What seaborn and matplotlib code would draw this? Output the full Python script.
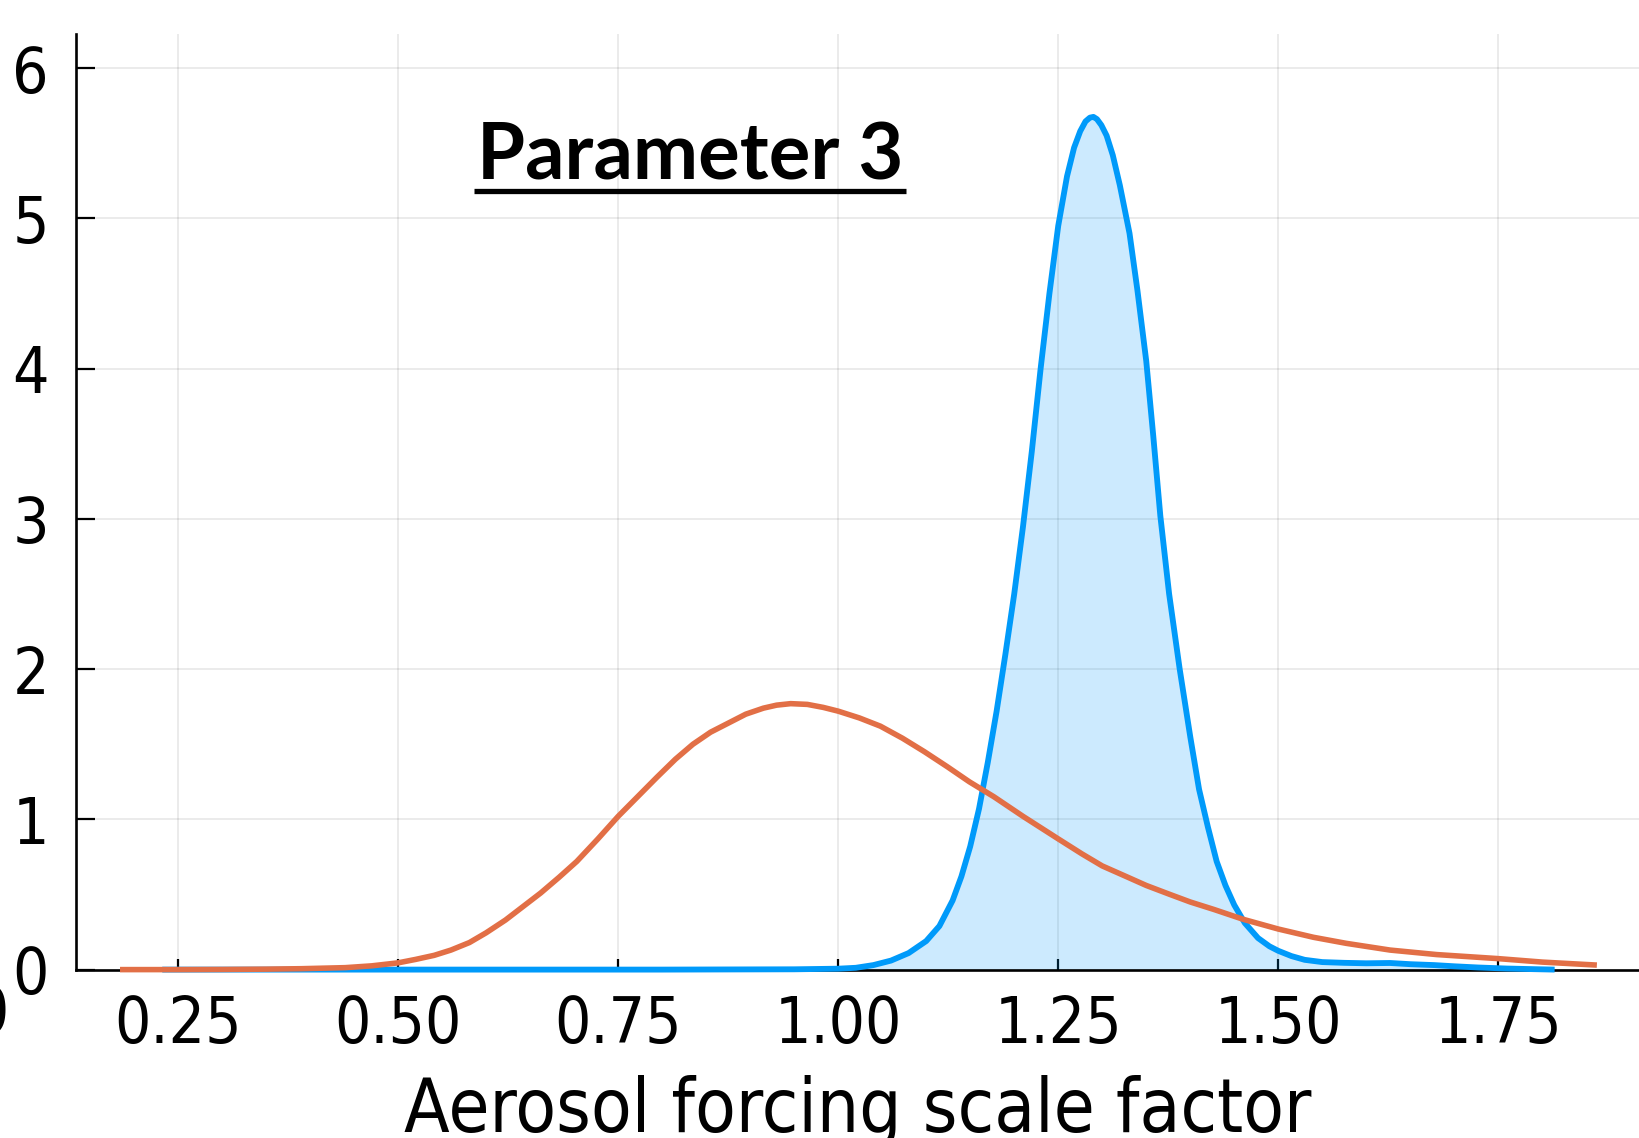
import numpy as np
import pandas as pd
import matplotlib
matplotlib.use("Agg")
import matplotlib.pyplot as plt
import seaborn as sns
from matplotlib.lines import Line2D

# ---------------- data ----------------
posterior_x = [0.232, 0.40, 0.60, 0.80, 0.95, 1.00, 1.02, 1.04, 1.06, 1.08, 1.10, 1.115,
               1.13, 1.14, 1.15, 1.16, 1.17, 1.18, 1.19, 1.20, 1.21, 1.22, 1.23, 1.24,
               1.25, 1.26, 1.268, 1.275, 1.281, 1.286, 1.290, 1.294, 1.299, 1.305, 1.312,
               1.32, 1.331, 1.34, 1.35, 1.358, 1.366, 1.376, 1.388, 1.40, 1.41, 1.42,
               1.43, 1.44, 1.45, 1.462, 1.477, 1.49, 1.50, 1.515, 1.53, 1.55, 1.575,
               1.60, 1.627, 1.65, 1.677, 1.70, 1.727, 1.76, 1.79, 1.814]
posterior_y = [0.0, 0.0, 0.0, 0.0, 0.002, 0.006, 0.012, 0.03, 0.06, 0.11, 0.19, 0.29,
               0.46, 0.62, 0.82, 1.07, 1.38, 1.72, 2.10, 2.50, 2.95, 3.45, 4.00, 4.50,
               4.95, 5.28, 5.47, 5.58, 5.645, 5.67, 5.675, 5.66, 5.62, 5.55, 5.42,
               5.22, 4.90, 4.52, 4.05, 3.55, 3.02, 2.50, 2.00, 1.55, 1.20, 0.95,
               0.72, 0.56, 0.43, 0.31, 0.21, 0.155, 0.125, 0.09, 0.065, 0.05, 0.045,
               0.042, 0.044, 0.036, 0.03, 0.022, 0.014, 0.007, 0.003, 0.0]

prior_x = [0.184, 0.25, 0.30, 0.35, 0.39, 0.44, 0.47, 0.50, 0.52, 0.541, 0.56, 0.581,
           0.60, 0.622, 0.642, 0.662, 0.683, 0.703, 0.727, 0.75, 0.772, 0.794, 0.815,
           0.835, 0.855, 0.875, 0.895, 0.915, 0.93, 0.946, 0.965, 0.983, 1.0, 1.024,
           1.048, 1.073, 1.098, 1.124, 1.149, 1.177, 1.21, 1.25, 1.277, 1.30, 1.327,
           1.35, 1.377, 1.40, 1.427, 1.46, 1.50, 1.54, 1.577, 1.627, 1.68, 1.75,
           1.80, 1.862]
prior_y = [0.0, 0.0, 0.001, 0.003, 0.006, 0.013, 0.025, 0.045, 0.068, 0.095, 0.13, 0.18,
           0.245, 0.33, 0.42, 0.51, 0.615, 0.72, 0.87, 1.02, 1.15, 1.28, 1.40,
           1.50, 1.58, 1.64, 1.70, 1.74, 1.76, 1.77, 1.765, 1.745, 1.72, 1.675,
           1.62, 1.54, 1.45, 1.35, 1.25, 1.15, 1.02, 0.87, 0.77, 0.69, 0.62,
           0.56, 0.50, 0.45, 0.40, 0.335, 0.27, 0.215, 0.175, 0.13, 0.10, 0.073,
           0.05, 0.03]

x_ticks = [0.25, 0.50, 0.75, 1.00, 1.25, 1.50, 1.75]
x_tick_labels = ["0.25", "0.50", "0.75", "1.00", "1.25", "1.50", "1.75"]
y_ticks = [0, 1, 2, 3, 4, 5, 6]
y_tick_labels = ["0", "1", "2", "3", "4", "5", "6"]
title_text = "Parameter 3"
x_label = "Aerosol forcing scale factor"
offscreen_label = "0.00"

BLUE = "#009AFA"
ORANGE = "#E26F46"

# ---------------- styling ----------------
sns.set_theme(style="white")
plt.rcParams["font.family"] = ["DejaVu Sans"]
plt.rcParams["font.stretch"] = "condensed"

W, H = 1640, 1138
fig = plt.figure(figsize=(W / 100, H / 100), dpi=100)
fig.patch.set_facecolor("white")
ax_left, ax_bottom_px, ax_top_px = 76, 969.6, 33.5
ax = fig.add_axes([ax_left / W, 1 - ax_bottom_px / H, 1 - ax_left / W,
                   (ax_bottom_px - ax_top_px) / H])
ax.set_facecolor("white")

df_post = pd.DataFrame({"x": posterior_x, "density": posterior_y})
df_prior = pd.DataFrame({"x": prior_x, "density": prior_y})

ax.fill_between(df_post["x"], 0, df_post["density"], color=BLUE, alpha=0.2,
                linewidth=0, zorder=1)
sns.lineplot(data=df_post, x="x", y="density", ax=ax, color=BLUE, linewidth=4.2,
             sort=False, zorder=3, clip_on=False)
sns.lineplot(data=df_prior, x="x", y="density", ax=ax, color=ORANGE, linewidth=4.0,
             sort=False, zorder=4, clip_on=False)
for ln in ax.lines:
    ln.set_solid_joinstyle("round")
    ln.set_solid_capstyle("butt")

ax.set_xlim(0.134, 1.911)
ax.set_ylim(0, 6.23)
ax.set_xticks(x_ticks)
ax.set_xticklabels(x_tick_labels)
ax.set_yticks(y_ticks)
ax.set_yticklabels(y_tick_labels)

ax.grid(True, color="black", alpha=0.1, linewidth=1.1)
ax.set_axisbelow(True)

for s in ["top", "right"]:
    ax.spines[s].set_visible(False)
for s in ["left", "bottom"]:
    ax.spines[s].set_color("black")
    ax.spines[s].set_linewidth(1.9)

ax.tick_params(axis="y", direction="in", length=13.7, width=1.6, pad=19.5,
               labelsize=46, colors="black", left=True)
ax.tick_params(axis="x", direction="in", length=7.9, width=1.6, pad=17.5,
               labelsize=46, colors="black", bottom=True)

ax.set_xlabel(x_label, fontsize=53.5, color="black", va="baseline")
ax.xaxis.set_label_coords(0.5, (ax_bottom_px - 1132) / (ax_bottom_px - ax_top_px))
ax.set_ylabel("")

# title inside the plot, bold and underlined
t = ax.text((690 - ax_left) / (W - ax_left), (ax_bottom_px - 180) / (ax_bottom_px - ax_top_px),
            title_text, transform=ax.transAxes, ha="center", va="baseline",
            fontsize=56, fontweight="bold", family=["Lato", "DejaVu Sans"],
            fontstretch="normal", color="black")

# cut-off tick label at the very left edge of the image
fig.text(9 / W, 1 - 1015 / H, offscreen_label, ha="right", va="center",
         fontsize=46, color="black")

fig.canvas.draw()
bb = t.get_window_extent(renderer=fig.canvas.get_renderer())
y_ul = 1 - 190.5 / H
fig.add_artist(Line2D([(bb.x0 - 3) / W, (bb.x1 + 3) / W], [y_ul, y_ul],
                      transform=fig.transFigure, color="black", linewidth=3.8,
                      solid_capstyle="butt"))

fig.savefig("out.png", dpi=100, facecolor="white")
